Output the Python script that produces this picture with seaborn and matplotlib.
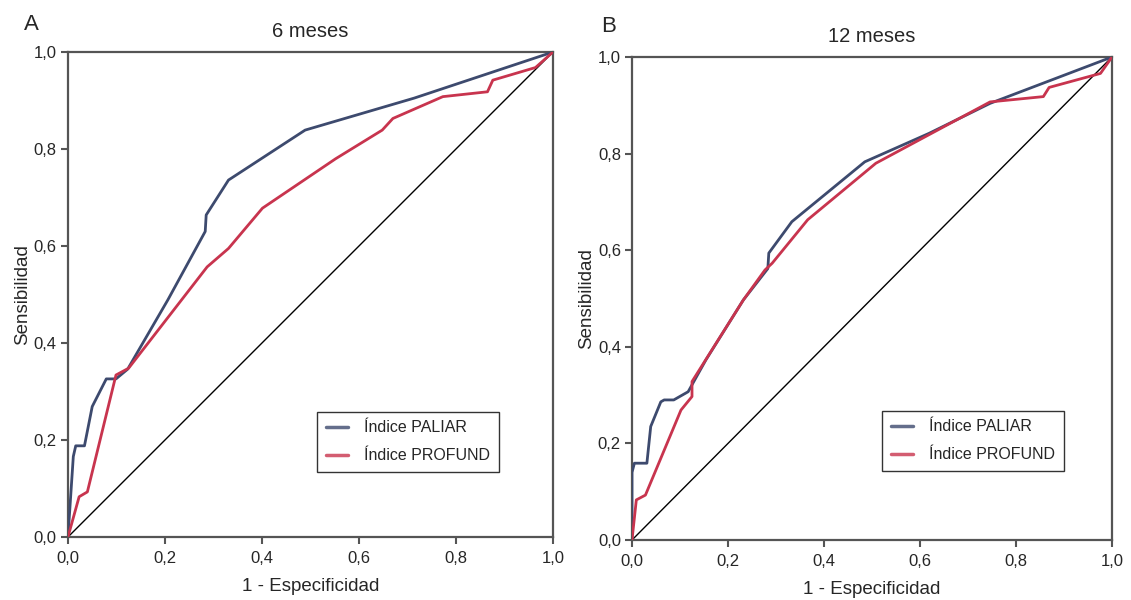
import matplotlib
matplotlib.use("Agg")
import matplotlib.pyplot as plt
import seaborn as sns
import pandas as pd

# panel A - 6 meses
a_paliar_x = [0.0, 0.011, 0.016, 0.034, 0.05, 0.079, 0.099, 0.123, 0.206, 0.283, 0.285, 0.331, 0.489, 0.714, 1.0]
a_paliar_y = [0.0, 0.166, 0.188, 0.188, 0.269, 0.326, 0.326, 0.346, 0.489, 0.630, 0.664, 0.736, 0.839, 0.905, 1.0]
a_profund_x = [0.0, 0.023, 0.04, 0.099, 0.125, 0.287, 0.331, 0.401, 0.552, 0.648, 0.67, 0.773, 0.865, 0.876, 0.964, 1.0]
a_profund_y = [0.0, 0.083, 0.093, 0.334, 0.348, 0.557, 0.595, 0.678, 0.78, 0.839, 0.863, 0.908, 0.918, 0.942, 0.968, 1.0]

# panel B - 12 meses
b_paliar_x = [0.0, 0.0, 0.005, 0.031, 0.039, 0.06, 0.067, 0.087, 0.117, 0.154, 0.232, 0.283, 0.285, 0.333, 0.485, 0.619, 0.746, 1.0]
b_paliar_y = [0.0, 0.14, 0.159, 0.159, 0.235, 0.286, 0.29, 0.29, 0.307, 0.373, 0.497, 0.562, 0.594, 0.659, 0.783, 0.842, 0.904, 1.0]
b_profund_x = [0.0, 0.009, 0.028, 0.102, 0.125, 0.125, 0.232, 0.277, 0.292, 0.366, 0.508, 0.746, 0.857, 0.869, 0.976, 1.0]
b_profund_y = [0.0, 0.083, 0.093, 0.269, 0.297, 0.328, 0.497, 0.559, 0.573, 0.663, 0.78, 0.907, 0.918, 0.937, 0.966, 1.0]

ticks = [0.0, 0.2, 0.4, 0.6, 0.8, 1.0]
tick_labels = ["0,0", "0,2", "0,4", "0,6", "0,8", "1,0"]
series_names = ["Índice PALIAR", "Índice PROFUND"]
colors = ["#3d4a6e", "#c8344e"]

sns.set_style("ticks")
plt.rcParams['font.family'] = ['Liberation Sans', 'DejaVu Sans']

fig = plt.figure(figsize=(11.31, 6), dpi=100)
axA = fig.add_axes([0.0601, 0.105, 0.4288, 0.8083])
axB = fig.add_axes([0.5588, 0.100, 0.4244, 0.805])

panels = [
    (axA, "A", "6 meses", a_paliar_x, a_paliar_y, a_profund_x, a_profund_y, (0.513, 0.134), (-0.091, 1.045)),
    (axB, "B", "12 meses", b_paliar_x, b_paliar_y, b_profund_x, b_profund_y, (0.521, 0.143), (-0.065, 1.052)),
]

for ax, letter, title, px, py, rx, ry, leg_pos, let_pos in panels:
    df = pd.concat([
        pd.DataFrame({"x": px, "y": py, "serie": series_names[0]}),
        pd.DataFrame({"x": rx, "y": ry, "serie": series_names[1]}),
    ])
    # reference diagonal
    ax.plot([0, 1], [0, 1], color="black", lw=1.0, zorder=1)
    sns.lineplot(data=df, x="x", y="y", hue="serie", palette=colors, sort=False,
                 estimator=None, lw=2.0, ax=ax, zorder=3)
    ax.set_xlim(0, 1)
    ax.set_ylim(0, 1)
    ax.set_xticks(ticks)
    ax.set_xticklabels(tick_labels, fontsize=12)
    ax.set_yticks(ticks)
    ax.set_yticklabels(tick_labels, fontsize=12)
    ax.tick_params(direction="out", length=5, width=1.5, color="#555555", pad=3)
    ax.tick_params(axis="x", pad=5)
    for s in ax.spines.values():
        s.set_visible(True)
        s.set_color("#555555")
        s.set_linewidth(1.6)
    ax.set_xlabel("1 - Especificidad", fontsize=13.5, labelpad=9)
    ax.set_ylabel("Sensibilidad", fontsize=13.5, labelpad=2)
    ax.set_title(title, fontsize=14.5, pad=11)
    ax.text(let_pos[0], let_pos[1], letter, transform=ax.transAxes, fontsize=16,
            va="baseline", ha="left")
    leg = ax.legend(loc="lower left", bbox_to_anchor=leg_pos, fontsize=11.5, frameon=True,
                    fancybox=False, edgecolor="black", handlelength=1.4, handletextpad=1.0,
                    labelspacing=0.8, borderpad=0.55, borderaxespad=0)
    leg.get_frame().set_linewidth(1.0)
    for h in leg.get_lines():
        h.set_linewidth(2.5)
        h.set_alpha(0.8)

fig.savefig("out.png", dpi=100)
